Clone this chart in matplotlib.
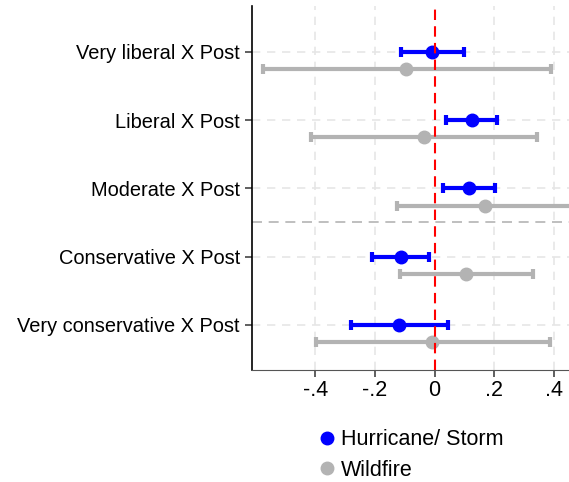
import numpy as np
import matplotlib.pyplot as plt

plt.rcParams['font.family'] = ['Liberation Sans', 'DejaVu Sans']

labels = ["Very liberal X Post", "Liberal X Post", "Moderate X Post",
          "Conservative X Post", "Very conservative X Post"]
hur_coef = [-0.007, 0.126, 0.114, -0.114, -0.119]
hur_lo = [-0.112, 0.040, 0.030, -0.209, -0.281]
hur_hi = [0.098, 0.211, 0.202, -0.020, 0.044]
wf_coef = [-0.094, -0.035, 0.169, 0.107, -0.007]
wf_lo = [-0.576, -0.415, -0.127, -0.115, -0.397]
wf_hi = [0.390, 0.344, 0.480, 0.330, 0.386]

ypos = np.arange(len(labels))[::-1] + 1.0
off = 0.255

fig = plt.figure(figsize=(5.69, 4.82), dpi=100)
ax = fig.add_axes([0.4424, 0.2324, 0.5576, 0.7558])

for x in [-0.4, -0.2, 0.2, 0.4]:
    ax.axvline(x, color='#e6e6e6', lw=1.2, ls=(0, (5, 4)), zorder=0)
for y in ypos:
    ax.axhline(y, color='#e6e6e6', lw=1.2, ls=(0, (5, 4)), zorder=0)
ax.axhline(2.5, color='#b4b4b4', lw=1.2, ls=(0, (6, 4)), zorder=1)

def draw(c, lo, hi, y, col):
    c = np.array(c)
    err = [c - np.array(lo), np.array(hi) - c]
    ax.errorbar(c, y, xerr=err, fmt='o', color=col, ms=9, lw=3,
                capsize=3.5, capthick=3, zorder=3)

draw(wf_coef, wf_lo, wf_hi, ypos - off, '#b3b3b3')
draw(hur_coef, hur_lo, hur_hi, ypos, '#0000ff')
ax.axvline(0, color='red', lw=1.5, ls=(0, (5, 3)), zorder=4)

ax.set_xlim(-0.613, 0.451)
ax.set_ylim(0.338, 5.676)
ax.set_yticks(ypos)
ax.set_yticklabels(labels, fontsize=14.4)
ax.set_xticks([-0.4, -0.2, 0, 0.2, 0.4])
ax.set_xticklabels(['-.4', '-.2', '0', '.2', '.4'], fontsize=15.5)
ax.tick_params(axis='both', length=5, width=1.2, color='#444444')
ax.tick_params(axis='x', pad=2)
ax.spines['top'].set_visible(False)
ax.spines['right'].set_visible(False)
ax.spines['bottom'].set_color('#555555')
ax.spines['left'].set_linewidth(1.2)

h1 = plt.Line2D([], [], marker='o', ls='', color='#0000ff', ms=9)
h2 = plt.Line2D([], [], marker='o', ls='', color='#b3b3b3', ms=9)
fig.legend([h1, h2], ['Hurricane/ Storm', 'Wildfire'], loc='upper left',
           bbox_to_anchor=(0.533, 0.132), frameon=False, fontsize=15.5,
           handletextpad=0.05, labelspacing=0.45, borderpad=0, handlelength=1.2)

fig.savefig('out.png', dpi=100)
